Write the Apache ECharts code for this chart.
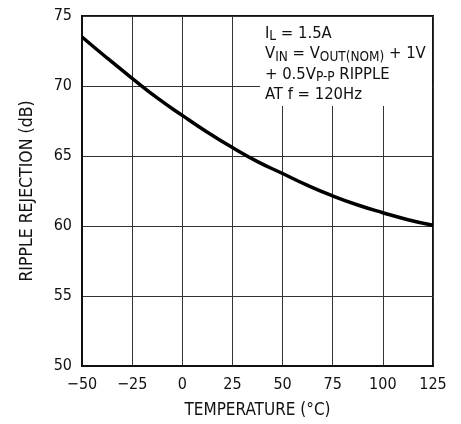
<!DOCTYPE html>
<html><head><meta charset="utf-8">
<script src="https://cdn.jsdelivr.net/npm/echarts@6/dist/echarts.min.js"></script>
<style>html,body{margin:0;padding:0;background:#fff}#c{width:461px;height:424px}</style>
</head><body><div id="c"></div>
<script>
var temperatures = [-50, -37.5, -25, -12.5, 0, 12.5, 25, 37.5, 50, 62.5, 75, 87.5, 100, 112.5, 125];
var rejection = [73.5, 72.0, 70.55, 69.15, 67.9, 66.7, 65.6, 64.6, 63.75, 62.9, 62.15, 61.5, 60.95, 60.45, 60.05];
var xTicks = [-50, -25, 0, 25, 50, 75, 100, 125];
var yTicks = [50, 55, 60, 65, 70, 75];
var FF = '"Liberation Sans Narrow", "DejaVu Sans Condensed", "Liberation Sans", sans-serif';
var chart = echarts.init(document.getElementById('c'));
var pts = temperatures.map(function(t, i){ return [t, rejection[i]]; });
chart.setOption({
  animation: false,
  backgroundColor: '#fff',
  grid: {left: 82, right: 28, top: 16, bottom: 56, show: true, borderColor: '#111', borderWidth: 2, backgroundColor: 'transparent'},
  xAxis: {
    type: 'value', min: xTicks[0], max: xTicks[xTicks.length-1], interval: 25,
    name: 'TEMPERATURE (°C)', nameLocation: 'middle', nameGap: 36,
    nameTextStyle: {fontFamily: FF, fontSize: 17, color: '#111'},
    axisLine: {show: true, onZero: false, lineStyle: {color: '#111', width: 2}},
    axisTick: {show: false},
    axisLabel: {fontFamily: FF, fontSize: 16, color: '#111', margin: 11, formatter: function(v){ return String(v).replace('-', '\u2212'); }},
    splitLine: {show: true, lineStyle: {color: '#333', width: 1}}
  },
  yAxis: {
    type: 'value', min: yTicks[0], max: yTicks[yTicks.length-1], interval: 5,
    name: 'RIPPLE REJECTION (dB)', nameLocation: 'middle', nameGap: 46,
    nameTextStyle: {fontFamily: FF, fontSize: 17.5, color: '#111'},
    axisLine: {show: true, onZero: false, lineStyle: {color: '#111', width: 2}},
    axisTick: {show: false},
    axisLabel: {fontFamily: FF, fontSize: 16, color: '#111', margin: 10},
    splitLine: {show: true, lineStyle: {color: '#333', width: 1}}
  },
  series: [{
    type: 'line', data: pts, smooth: true, showSymbol: false,
    lineStyle: {color: '#000', width: 3.5}, z: 5
  }],
  graphic: [
    {type: 'rect', left: 260, top: 17, z: 10, shape: {width: 172, height: 89}, style: {fill: '#fff'}},
    {type: 'text', left: 265, top: 23, z: 11, style: {
      fontFamily: FF, fontSize: 16.5, fill: '#111', lineHeight: 20.5,
      text: 'I{s|L} = 1.5A\nV{s|IN} = V{s|OUT(NOM)} + 1V\n+ 0.5V{s|P-P} RIPPLE\nAT f = 120Hz',
      rich: {s: {fontFamily: FF, fontSize: 13.5, fill: '#111', verticalAlign: 'bottom', lineHeight: 20.5, padding: [6, 0, 0, 0]}}
    }}
  ]
});
</script></body></html>
